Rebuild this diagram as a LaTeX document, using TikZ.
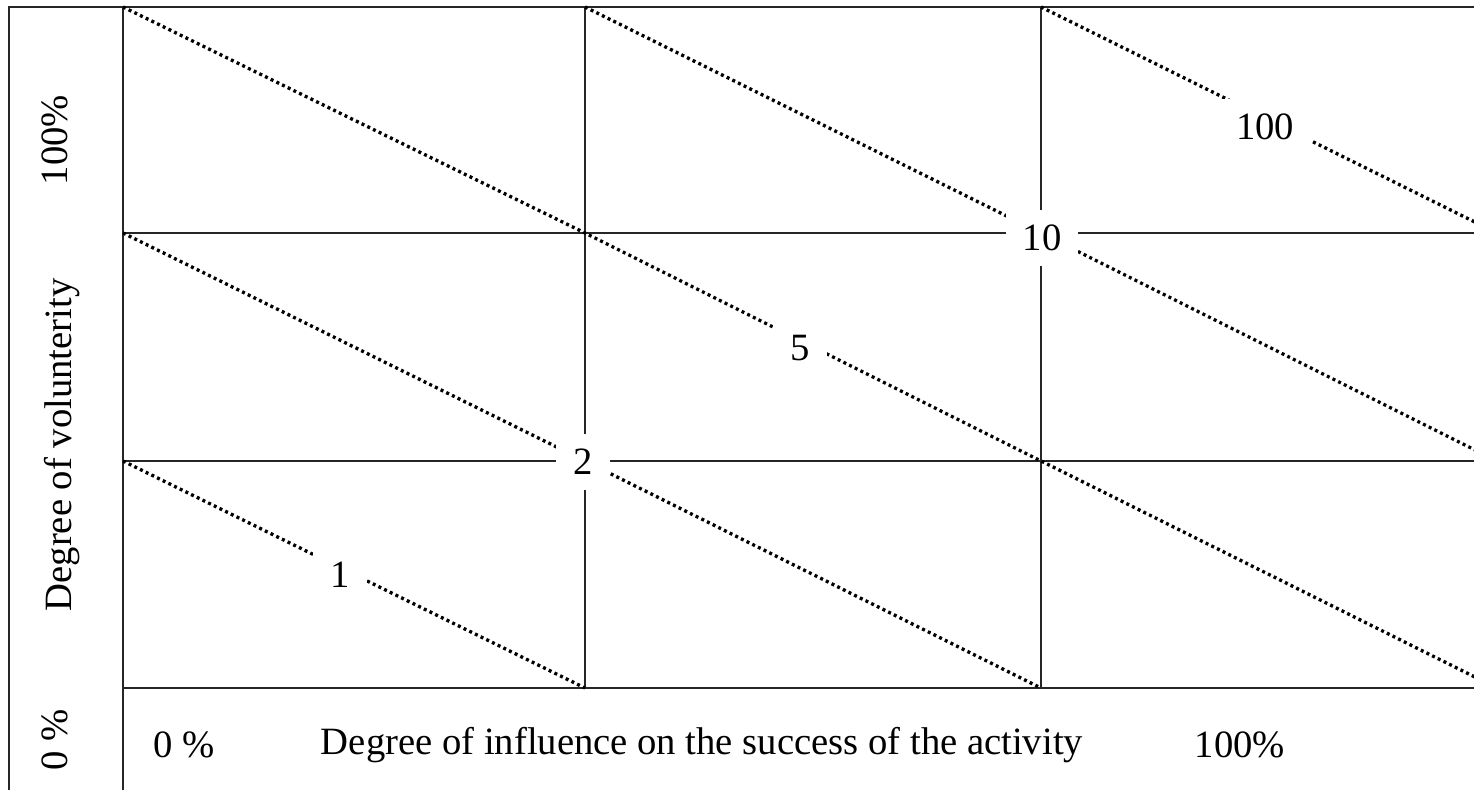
\documentclass[tikz,border=0pt]{standalone}
\usepackage{fontspec}
\setmainfont{Liberation Serif}

\begin{document}
\begin{tikzpicture}[x=0.02cm, y=-0.02cm]
	\tikzstyle{grid} = [line width=1.1pt, black!85]
	\tikzstyle{level} = [line width=1.9pt, dash pattern=on 1.7pt off 1.9pt]
	\tikzstyle{value} = [fill=white, inner xsep=0.34cm, inner ysep=0.3cm,
	font=\fontsize{22}{26}\selectfont]
	\tikzstyle{axis} = [inner sep=0pt, font=\fontsize{22}{26}\selectfont]
	\useasboundingbox (0,0) rectangle (1474,790);
	\clip (0,0) rectangle (1474,790);

	% frame
	\coordinate (tl) at (9,7);
	\coordinate (bl) at (9,790);
	\coordinate (tr) at (1474,7);
	\coordinate (ax) at (123,7);
	\coordinate (axb) at (123,790);

	% grid points (column, row)
	\coordinate (p00) at (123,7);    \coordinate (p01) at (123,233);
	\coordinate (p02) at (123,461);  \coordinate (p03) at (123,688);
	\coordinate (p10) at (585,7);    \coordinate (p11) at (585,233);
	\coordinate (p12) at (585,461);  \coordinate (p13) at (585,688);
	\coordinate (p20) at (1041,7);   \coordinate (p21) at (1041,233);
	\coordinate (p22) at (1041,461); \coordinate (p23) at (1041,688);
	\coordinate (p30) at (1497,7);   \coordinate (p31) at (1497,233);
	\coordinate (p32) at (1497,461); \coordinate (p33) at (1497,688);

	\begin{scope}
		\draw[grid] (bl) -- (tl) -- (tr);
		\draw[grid] (ax) -- (axb);
		\draw[grid] (p10) -- (p13);
		\draw[grid] (p20) -- (p23);
		\draw[grid] (p01) -- (p31);
		\draw[grid] (p02) -- (p32);
		\draw[grid] (p03) -- (p33);
	\end{scope}

	\begin{scope}
		\draw[level] (p02) -- (p13);
		\draw[level] (p01) -- (p12) -- (p23);
		\draw[level] (p00) -- (p11) -- (p22) -- (p33);
		\draw[level] (p10) -- (p21) -- (p32);
		\draw[level] (p20) -- (p31);
		%\draw[level] (p30) -- (p41);

		\node[value] (v1) at (340,575) {1};
		\node[value] (v2) at (583,462) {2};
		\node[value] (v5) at (800,348) {5};
		\node[value] (v10) at (1042,238) {10};
		\node[value] (v100) at (1265,127) {100};
	\end{scope}

	% axis texts
	\node[axis, rotate=90] (ytop) at (55,140) {100\%};
	\node[axis, rotate=90] (ytitle) at (62,445) {Degree of volunterity};
	\node[axis, rotate=90] (ybot) at (55,740) {0 \%};
	\node[axis] (xleft) at (184,745) {0 \%};
	\node[axis] (xtitle) at (702,745) {Degree of influence on the success of the activity};
	\node[axis] (xright) at (1240,745) {100\%};
\end{tikzpicture}
\end{document}
